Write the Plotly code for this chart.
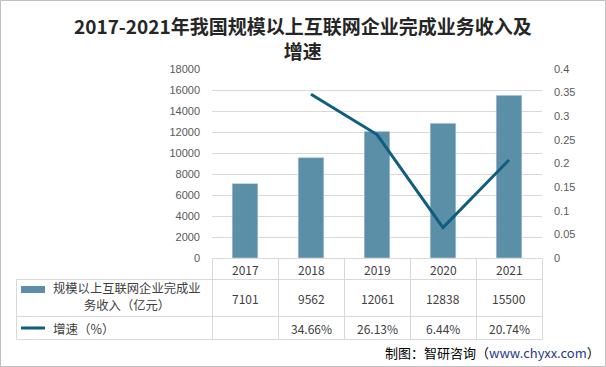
import plotly.graph_objects as go

years = ["2017", "2018", "2019", "2020", "2021"]
revenue = [7101, 9562, 12061, 12838, 15500]
growth_pct = [None, 34.66, 26.13, 6.44, 20.74]
growth_labels = ["", "34.66%", "26.13%", "6.44%", "20.74%"]
bar_name = "规模以上互联网企业完成业务收入（亿元）"
bar_name_lines = ["规模以上互联网企业完成业", "务收入（亿元）"]
line_name = "增速（%）"
title_text = "2017-2021年我国规模以上互联网企业完成业务收入及<br>增速"
source_text = "制图：智研咨询（<span style='color:#1F3A8A'>www.chyxx.com</span>）"

W, H = 606, 367
PL, PR, PT, PB = 212, 542, 69, 258
BAR_COLOR = "#5B8FA8"
LINE_COLOR = "#0F5E7E"
GRID = "#D9D9D9"
FONT = "Noto Sans CJK SC"


def px(x):
    return (x - PL) / (PR - PL)


def py(y):
    return (PB - y) / (PB - PT)


growth = [None if g is None else g / 100 for g in growth_pct]

fig = go.Figure()
fig.add_trace(go.Bar(x=years, y=revenue, marker_color=BAR_COLOR, width=0.39,
                     name=bar_name, yaxis="y"))
fig.add_trace(go.Scatter(x=years, y=growth, mode="lines", name=line_name,
                         line=dict(color=LINE_COLOR, width=3), yaxis="y2",
                         connectgaps=False))

shapes = []
line_style = dict(color=GRID, width=1)
# horizontal table lines
shapes.append(dict(type="line", xref="paper", yref="paper", x0=px(212.5), x1=px(542.5),
                   y0=py(258.5), y1=py(258.5), line=line_style))
for yy in [279.5, 316.5, 339.5]:
    shapes.append(dict(type="line", xref="paper", yref="paper", x0=px(16.5), x1=px(542.5),
                       y0=py(yy), y1=py(yy), line=line_style))
# vertical table lines
shapes.append(dict(type="line", xref="paper", yref="paper", x0=px(16.5), x1=px(16.5),
                   y0=py(279.5), y1=py(339.5), line=line_style))
for xx in [212.5, 278.5, 344.5, 410.5, 476.5, 542.5]:
    shapes.append(dict(type="line", xref="paper", yref="paper", x0=px(xx), x1=px(xx),
                       y0=py(258.5), y1=py(339.5), line=line_style))
# legend swatches
shapes.append(dict(type="rect", xref="paper", yref="paper", x0=px(21), x1=px(45),
                   y0=py(293), y1=py(286), fillcolor=BAR_COLOR, line=dict(width=0)))
shapes.append(dict(type="line", xref="paper", yref="paper", x0=px(21), x1=px(45),
                   y0=py(328), y1=py(328), line=dict(color=LINE_COLOR, width=3)))
# outer border
shapes.append(dict(type="rect", xref="paper", yref="paper", x0=px(0.5), x1=px(605.5),
                   y0=py(366.5), y1=py(0.5), line=dict(color="#BFBFBF", width=1)))

annotations = []
cell_font = dict(family=FONT, size=12, color="#404040")
for i, yr in enumerate(years):
    annotations.append(dict(x=i, y=py(269), xref="x", yref="paper", text=yr,
                            showarrow=False, font=cell_font, yanchor="middle"))
    annotations.append(dict(x=i, y=py(298), xref="x", yref="paper", text=str(revenue[i]),
                            showarrow=False, font=cell_font, yanchor="middle"))
    if growth_labels[i]:
        annotations.append(dict(x=i, y=py(328), xref="x", yref="paper", text=growth_labels[i],
                                showarrow=False, font=cell_font, yanchor="middle"))
for j, txt in enumerate(bar_name_lines):
    annotations.append(dict(x=px(127), y=py(288 + 16.5 * j), xref="paper", yref="paper",
                            text=txt, showarrow=False,
                            font=dict(family=FONT, size=12.3, color="#404040"),
                            xanchor="center", yanchor="middle"))
annotations.append(dict(x=px(51), y=py(328), xref="paper", yref="paper", text=line_name,
                        showarrow=False, font=dict(family=FONT, size=12.5, color="#404040"),
                        xanchor="left", yanchor="middle"))
annotations.append(dict(x=px(303), y=py(38), xref="paper", yref="paper", text="<b>" + title_text + "</b>",
                        showarrow=False, font=dict(family=FONT, size=19, color="#262626"),
                        xanchor="center", yanchor="middle", align="center"))
annotations.append(dict(x=px(602), y=py(352), xref="paper", yref="paper", text=source_text,
                        showarrow=False, font=dict(family=FONT, size=13, color="#000000"),
                        xanchor="right", yanchor="middle"))

fig.update_layout(
    width=W, height=H,
    margin=dict(l=PL, r=W - PR, t=PT, b=H - PB, pad=0),
    paper_bgcolor="white", plot_bgcolor="white",
    showlegend=False,
    xaxis=dict(type="category", range=[-0.5, 4.5], showticklabels=False, showgrid=False,
               zeroline=False, showline=False, ticks="", fixedrange=True),
    yaxis=dict(range=[0, 18000], dtick=2000, tickformat="d", showgrid=True, gridcolor=GRID,
               gridwidth=1, zeroline=False, showline=False, ticks="",
               tickfont=dict(family="Liberation Sans", size=11, color="#595959"),
               ticklabelstandoff=11),
    yaxis2=dict(range=[0, 0.4], dtick=0.05, overlaying="y", side="right", showgrid=False,
                zeroline=False, showline=False, ticks="",
                tickfont=dict(family="Liberation Sans", size=11, color="#595959"),
                ticklabelstandoff=11),
    shapes=shapes,
    annotations=annotations,
)

fig.write_html("out.html", config={"displayModeBar": False},
               post_script="document.body.style.margin='0';")
